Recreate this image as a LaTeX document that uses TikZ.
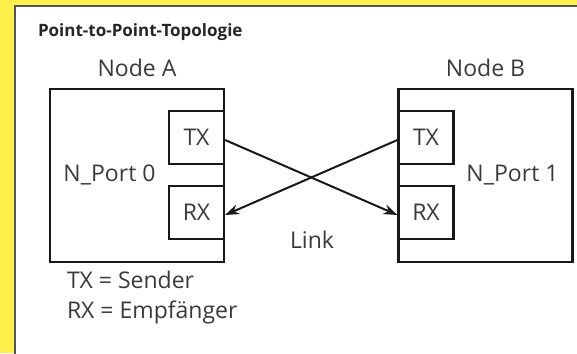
\documentclass[tikz,border=0pt]{standalone}
\usepackage{fontspec}
\setmainfont{Open Sans}
\usetikzlibrary{positioning,arrows.meta}
\definecolor{bgyellow}{HTML}{FFF04C}
\definecolor{inkgray}{HTML}{3A3A3A}
\definecolor{framegray}{HTML}{555555}
\tikzset{
  nodebox/.style={draw,line width=2.2pt,minimum width=174pt,minimum height=173pt,inner sep=0pt},
  portbox/.style={draw,line width=2.2pt,minimum width=55pt,minimum height=53pt,inner sep=0pt,
    text=inkgray,font=\fontsize{23}{27}\selectfont},
  plaintext/.style={text=inkgray,inner sep=0pt,font=\fontsize{23}{27}\selectfont},
}
\begin{document}
\begin{tikzpicture}[x=1pt,y=-1pt,->,>=Stealth,line width=2pt,draw=black!90]

\clip (0,0) rectangle (577,353);
\fill[bgyellow] (0,0) rectangle (577,353);
\draw[-,fill=white,draw=framegray,line width=1.5pt] (15,6) rectangle (600,380);

\node[plaintext,anchor=base west,text=black!85,font=\fontsize{17}{20}\selectfont\bfseries]
  (title) at (37,37) {Point-to-Point-Topologie};

% the two nodes
\node[nodebox] (nodea) at (137,175.5) {};
\node[nodebox] (nodeb) at (485.5,175.5) {};
\node[plaintext,above=10pt of nodea] {Node A};
\node[plaintext,above=10pt of nodeb] {Node B};

% ports
\node[portbox,anchor=east] (txa) at ([yshift=38pt]nodea.east) {TX};
\node[portbox,anchor=east] (rxa) at ([yshift=-37pt]nodea.east) {RX};
\node[portbox,anchor=west] (txb) at ([yshift=38pt]nodeb.west) {TX};
\node[portbox,anchor=west] (rxb) at ([yshift=-37pt]nodeb.west) {RX};

\node[plaintext] at (109.5,175) {N\_Port 0};
\node[plaintext] at (512.5,175) {N\_Port 1};

% crossed link
\draw[-{Stealth[length=14pt,width=10pt]}] ([yshift=-2.5pt]txa.east) -- ([yshift=-2.5pt]rxb.west);
\draw[-{Stealth[length=14pt,width=10pt]}] ([yshift=-2.5pt]txb.west) -- ([yshift=-2.5pt]rxa.east);
\node[plaintext] (link) at (312,240) {Link};

% legend
\node[plaintext,anchor=base west] (txkey) at (66,288) {TX = Sender};
\node[plaintext,anchor=base west] (rxkey) at ([yshift=-30pt]txkey.base west) {RX = Empfänger};

\end{tikzpicture}
\end{document}
